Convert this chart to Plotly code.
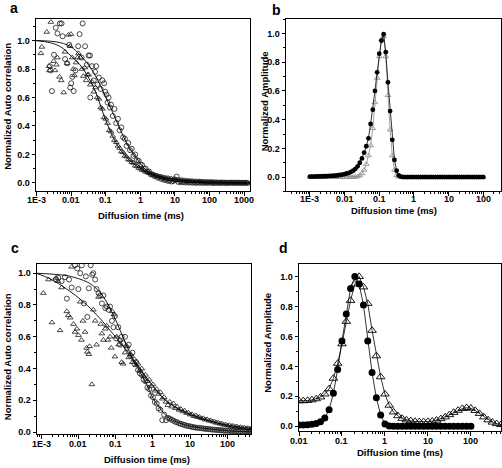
import math
import plotly.graph_objects as go

# ---------------- Panel a data (log10 of diffusion time in ms) ----------------
A_CIRC_EARLY_LOG = [-2.62, -2.60, -2.56, -2.50, -2.45, -2.40, -2.33, -2.28, -2.25, -2.18, -2.12, -2.06,
                    -2.03, -2.00, -1.97, -1.93, -1.88, -1.80, -1.76, -1.70, -1.67, -1.60, -1.55, -1.50,
                    -1.46, -1.45, -1.40, -1.35, -1.31, -1.28, -1.24, -1.20, -1.15, -1.10, -1.05, -1.02,
                    -0.98, -0.95, -0.92, -0.88]
A_CIRC_EARLY_Y = [0.82, 0.79, 0.645, 0.90, 1.09, 1.05, 1.12, 1.12, 1.03, 0.87, 0.84, 0.97,
                  0.67, 0.70, 0.745, 0.645, 0.79, 0.96, 1.045, 0.88, 1.12, 0.96, 0.83, 0.895,
                  0.895, 0.60, 0.82, 0.72, 0.78, 0.82, 0.69, 0.74, 0.66, 0.72, 0.70, 0.64,
                  0.62, 0.565, 0.60, 0.53]
A_TRI_EARLY_LOG = [-2.88, -2.85, -2.71, -2.64, -2.63, -2.59, -2.51, -2.47, -2.43, -2.40, -2.34, -2.29,
                   -2.22, -2.18, -2.12, -2.08, -2.03, -2.01, -1.97, -1.94, -1.91, -1.86, -1.82, -1.79,
                   -1.74, -1.69, -1.65, -1.61, -1.57, -1.53]
A_TRI_EARLY_Y = [0.91, 0.955, 1.06, 0.82, 0.79, 1.13, 0.855, 0.79, 0.83, 0.88, 0.745, 0.72,
                 0.635, 0.92, 0.84, 1.04, 0.96, 1.045, 0.88, 0.80, 0.755, 0.845, 0.88, 0.91,
                 0.88, 0.80, 0.75, 0.81, 0.72, 0.76]
A_TAIL_LOG = [-1.50, -1.45, -1.40, -1.35, -1.30, -1.25, -1.20, -1.15, -1.10, -1.05, -1.00, -0.95, -0.90,
              -0.85, -0.80, -0.75, -0.70, -0.65, -0.60, -0.55, -0.50, -0.45, -0.40, -0.35, -0.30, -0.25,
              -0.20, -0.15, -0.10, -0.05, 0.00, 0.05, 0.10, 0.15, 0.20, 0.25, 0.30, 0.35, 0.40, 0.45,
              0.50, 0.55, 0.60, 0.65, 0.70, 0.75, 0.80, 0.85, 0.90, 0.95, 1.00, 1.05, 1.10, 1.15, 1.20,
              1.25, 1.30, 1.35, 1.40, 1.45, 1.50, 1.55, 1.60, 1.65, 1.70, 1.75, 1.80, 1.85, 1.90, 1.95,
              2.00, 2.05, 2.10, 2.15, 2.20, 2.25, 2.30, 2.35, 2.40, 2.45, 2.50, 2.55, 2.60, 2.65, 2.70,
              2.75, 2.80, 2.85, 2.90, 2.95, 3.00, 3.05, 3.10]
A_CIRC_TAIL_Y = [0.55, 0.47, 0.52, 0.42, 0.45, 0.37, 0.39, 0.32, 0.31, 0.26, 0.28, 0.23, 0.24, 0.19, 0.20,
                 0.16, 0.155, 0.13, 0.125, 0.10, 0.10, 0.08, 0.08, 0.06, 0.06, 0.048, 0.05, 0.037, 0.04,
                 0.028, 0.03, 0.02, 0.022, 0.014, 0.017, 0.01, 0.013, 0.02, 0.045, 0.006, 0.01, 0.004,
                 0.008, 0.003, 0.007, 0.002, 0.006, 0.001, 0.005, 0.0, 0.004, 0.001, 0.005, -0.001, 0.004,
                 0.0, 0.003, 0.001, 0.004, -0.002, 0.003, 0.0, 0.002, -0.001, 0.003, 0.0, 0.002, -0.002,
                 0.002, 0.0, 0.003, -0.001, 0.002, 0.0, 0.002, -0.001, 0.001, 0.0, 0.001, -0.001]
A_TRI_TAIL_Y = [0.76, 0.69, 0.71, 0.64, 0.67, 0.60, 0.59, 0.53, 0.52, 0.46, 0.45, 0.42, 0.37, 0.36, 0.33,
                0.30, 0.285, 0.26, 0.245, 0.22, 0.215, 0.19, 0.185, 0.165, 0.16, 0.145, 0.14, 0.12, 0.118,
                0.105, 0.10, 0.09, 0.088, 0.078, 0.077, 0.068, 0.067, 0.058, 0.058, 0.05, 0.05, 0.044,
                0.045, 0.039, 0.039, 0.034, 0.034, 0.03, 0.03, 0.026, 0.027, 0.023, 0.024, 0.02, 0.021,
                0.018, 0.018, 0.015, 0.016, 0.013, 0.014, 0.011, 0.012, 0.01, 0.011, 0.009, 0.01, 0.007,
                0.008, 0.006, 0.007, 0.005, 0.006, 0.004, 0.005, 0.003, 0.004, 0.002, 0.004, 0.002, 0.003,
                0.001, 0.003, 0.001, 0.002, 0.0, 0.002, 0.0, 0.001, 0.0, 0.001, 0.0, 0.001]
A_FIT1_LOG = [-3.05, -2.6, -2.3, -2.0, -1.75, -1.55, -1.35, -1.15, -1.0, -0.85, -0.7, -0.5, -0.3, -0.1,
              0.1, 0.4, 0.75, 1.25, 1.75, 2.5, 3.2]
A_FIT1_Y = [1.0, 0.995, 0.984, 0.955, 0.90, 0.845, 0.775, 0.68, 0.60, 0.52, 0.44, 0.33, 0.24, 0.17,
            0.105, 0.05, 0.02, 0.006, 0.002, 0.0, 0.0]
A_FIT2_LOG = [-3.05, -2.6, -2.3, -2.0, -1.75, -1.55, -1.35, -1.25, -1.15, -1.05, -0.95, -0.8, -0.6, -0.4,
              -0.2, 0.1, 0.5, 1.0, 1.7, 2.5, 3.2]
A_FIT2_Y = [1.0, 0.984, 0.955, 0.89, 0.83, 0.76, 0.67, 0.61, 0.54, 0.47, 0.41, 0.325, 0.24, 0.18,
            0.135, 0.086, 0.049, 0.026, 0.01, 0.003, 0.0]
A_TICKS = [1e-3, 0.01, 0.1, 1, 10, 100, 1000]
A_TICKTEXT = ["1E-3", "0.01", "0.1", "1", "10", "100", "1000"]

# ---------------- Panel b data ----------------
B_LOG = [-3.0, -2.9375, -2.875, -2.8125, -2.75, -2.6875, -2.625, -2.5625, -2.5, -2.4375, -2.375, -2.3125,
         -2.25, -2.1875, -2.125, -2.0625, -2.0, -1.9375, -1.875, -1.8125, -1.75, -1.6875, -1.625, -1.5625,
         -1.5, -1.4375, -1.375, -1.3125, -1.25, -1.1875, -1.125, -1.0625, -1.0, -0.9375, -0.875, -0.8125,
         -0.75, -0.6875, -0.625, -0.5625, -0.5, -0.4375, -0.375, -0.3125, -0.25, -0.1875, -0.125, -0.0625,
         0.0, 0.0625, 0.125, 0.1875, 0.25, 0.3125, 0.375, 0.4375, 0.5, 0.5625, 0.625, 0.6875, 0.75, 0.8125,
         0.875, 0.9375, 1.0, 1.0625, 1.125, 1.1875, 1.25, 1.3125, 1.375, 1.4375, 1.5, 1.5625, 1.625, 1.6875,
         1.75, 1.8125, 1.875, 1.9375, 2.0]
B_CIRC = [0.004, 0.004, 0.004, 0.005, 0.005, 0.005, 0.006, 0.006, 0.007, 0.008, 0.009, 0.010, 0.011, 0.013,
          0.015, 0.018, 0.021, 0.025, 0.030, 0.037, 0.045, 0.058, 0.075, 0.10, 0.13, 0.17, 0.215, 0.27,
          0.37, 0.47, 0.60, 0.73, 0.86, 0.95, 0.995, 0.87, 0.66, 0.46, 0.26, 0.12, 0.045, 0.012, 0.003,
          0.0, 0.0, 0.0, 0.0, 0.0, 0.0, 0.0, 0.0, 0.0, 0.0, 0.0, 0.0, 0.0, 0.0, 0.0, 0.0, 0.0, 0.0, 0.0,
          0.0, 0.0, 0.0, 0.0, 0.0, 0.0, 0.0, 0.0, 0.0, 0.0, 0.0, 0.0, 0.0, 0.0, 0.0, 0.0, 0.0, 0.0, 0.0]
B_TRI = [0.0, 0.0, 0.0, 0.0, 0.0, 0.0, 0.0, 0.0, 0.0, 0.0, 0.0, 0.0, 0.0, 0.0, 0.0, 0.0, 0.0, 0.0, 0.0,
         0.0, 0.0, 0.002, 0.005, 0.012, 0.025, 0.05, 0.09, 0.15, 0.22, 0.34, 0.52, 0.69, 0.84, 0.96, 0.98,
         0.84, 0.57, 0.33, 0.15, 0.05, 0.012, 0.002, 0.0, 0.0, 0.0, 0.0, 0.0, 0.0, 0.0, 0.0, 0.0, 0.0, 0.0,
         0.0, 0.0, 0.0, 0.0, 0.0, 0.0, 0.0, 0.0, 0.0, 0.0, 0.0, 0.0, 0.0, 0.0, 0.0, 0.0, 0.0, 0.0, 0.0,
         0.0, 0.0, 0.0, 0.0, 0.0, 0.0, 0.0, 0.0, 0.0]
B_TICKS = [1e-3, 0.01, 0.1, 1, 10, 100]
B_TICKTEXT = ["1E-3", "0.01", "0.1", "1", "10", "100"]

# ---------------- Panel c data ----------------
C_CIRC_EARLY_LOG = [-2.60, -2.54, -2.45, -2.36, -2.31, -2.25, -2.18, -2.09, -2.03, -2.00, -1.95, -1.91,
                    -1.85, -1.80, -1.76, -1.72, -1.67, -1.63, -1.60, -1.55, -1.51, -1.46, -1.42, -1.37,
                    -1.33, -1.28, -1.24, -1.19, -1.15, -1.10, -1.06, -1.02, -0.99, -0.93, -0.88, -0.84,
                    -0.80]
C_CIRC_EARLY_Y = [0.96, 0.97, 0.95, 0.975, 0.84, 0.96, 0.91, 1.05, 1.03, 0.90, 1.00, 1.05,
                  0.81, 0.98, 0.725, 0.905, 1.05, 0.99, 1.0, 0.96, 0.90, 0.875, 0.86, 0.81,
                  0.86, 0.78, 0.79, 0.77, 0.79, 0.70, 0.66, 0.73, 0.59, 0.66, 0.55, 0.60, 0.56]
C_TRI_EARLY_LOG = [-2.94, -2.80, -2.71, -2.60, -2.55, -2.49, -2.45, -2.31, -2.27, -2.22, -2.18, -2.13,
                   -2.09, -2.04, -2.00, -1.95, -1.92, -1.88, -1.82, -1.78, -1.76, -1.72, -1.70, -1.64,
                   -1.60, -1.55, -1.51, -1.46, -1.40, -1.37, -1.33, -1.28, -1.24, -1.21, -1.15, -1.12,
                   -1.09, -1.05, -1.02, -0.97, -0.92, -0.88, -0.84, -0.80]
C_TRI_EARLY_Y = [0.875, 0.96, 0.69, 0.97, 0.95, 0.64, 0.91, 0.76, 0.735, 0.72, 1.04, 0.68,
                 0.63, 0.65, 0.61, 0.82, 0.58, 0.70, 0.63, 0.53, 0.505, 0.49, 0.54, 0.30,
                 0.77, 0.70, 0.55, 0.85, 0.68, 0.62, 0.58, 0.65, 0.67, 0.58, 0.60, 0.53,
                 0.76, 0.74, 0.475, 0.60, 0.55, 0.58, 0.44, 0.43]
C_TAIL_LOG = [-0.75, -0.70, -0.65, -0.60, -0.55, -0.50, -0.45, -0.40, -0.35, -0.30, -0.25, -0.20, -0.15,
              -0.10, -0.05, 0.00, 0.05, 0.10, 0.15, 0.20, 0.25, 0.30, 0.35, 0.40, 0.45, 0.50, 0.55, 0.60,
              0.65, 0.70, 0.75, 0.80, 0.85, 0.90, 0.95, 1.00, 1.05, 1.10, 1.15, 1.20, 1.25, 1.30, 1.35,
              1.40, 1.45, 1.50, 1.55, 1.60, 1.65, 1.70, 1.75, 1.80, 1.85, 1.90, 1.95, 2.00, 2.05, 2.10,
              2.15, 2.20, 2.25, 2.30, 2.35, 2.40, 2.45, 2.50, 2.55, 2.60, 2.65]
C_CIRC_TAIL_Y = [0.60, 0.53, 0.55, 0.48, 0.50, 0.43, 0.44, 0.39, 0.37, 0.36, 0.33, 0.32, 0.28, 0.27, 0.23,
                 0.22, 0.19, 0.18, 0.15, 0.14, 0.075, 0.11, 0.075, 0.09, 0.085, 0.078, 0.072, 0.065, 0.062,
                 0.055, 0.052, 0.048, 0.045, 0.04, 0.038, 0.036, 0.033, 0.03, 0.029, 0.026, 0.027, 0.024,
                 0.023, 0.02, 0.021, 0.018, 0.018, 0.015, 0.016, 0.013, 0.014, 0.011, 0.012, 0.009, 0.01,
                 0.008, 0.009, 0.006, 0.008, 0.005, 0.006, 0.004, 0.005, 0.003, 0.004, 0.002, 0.004, 0.002,
                 0.003]
C_TRI_TAIL_Y = [0.50, 0.54, 0.47, 0.49, 0.44, 0.46, 0.42, 0.43, 0.39, 0.40, 0.35, 0.36, 0.32, 0.33, 0.29,
                0.30, 0.26, 0.27, 0.24, 0.25, 0.21, 0.22, 0.19, 0.17, 0.19, 0.16, 0.18, 0.15, 0.16, 0.14,
                0.145, 0.13, 0.135, 0.12, 0.122, 0.11, 0.112, 0.10, 0.104, 0.095, 0.094, 0.086, 0.087,
                0.079, 0.08, 0.072, 0.073, 0.066, 0.066, 0.058, 0.059, 0.052, 0.053, 0.046, 0.047, 0.041,
                0.043, 0.037, 0.039, 0.033, 0.035, 0.029, 0.031, 0.026, 0.028, 0.023, 0.025, 0.021, 0.024]
C_FIT1_LOG = [-3.13, -2.76, -2.31, -2.13, -1.865, -1.69, -1.42, -1.15, -0.97, -0.79, -0.66, -0.52, -0.35,
              -0.17, 0.01, 0.19, 0.37, 0.55, 0.82, 1.26, 1.71, 2.16, 2.65]
C_FIT1_Y = [1.0, 0.995, 0.985, 0.975, 0.955, 0.935, 0.88, 0.78, 0.69, 0.59, 0.52, 0.45, 0.38, 0.30, 0.21,
            0.15, 0.10, 0.073, 0.048, 0.027, 0.015, 0.006, 0.002]
C_FIT2_LOG = [-3.13, -2.76, -2.31, -1.865, -1.42, -1.15, -0.97, -0.75, -0.52, -0.35, -0.17, 0.01, 0.19,
              0.37, 0.64, 0.91, 1.26, 1.71, 2.16, 2.65]
C_FIT2_Y = [1.0, 0.965, 0.90, 0.82, 0.715, 0.64, 0.59, 0.527, 0.454, 0.40, 0.34, 0.29, 0.235, 0.194,
            0.152, 0.12, 0.09, 0.058, 0.0375, 0.022]
C_TICKS = [1e-3, 0.01, 0.1, 1, 10, 100]
C_TICKTEXT = ["1E-3", "0.01", "0.1", "1", "10", "100"]

# ---------------- Panel d data ----------------
D_LOG = [-2.0, -1.9, -1.8, -1.7, -1.6, -1.5, -1.4, -1.3, -1.2, -1.1, -1.0, -0.9, -0.8, -0.7, -0.6, -0.5,
         -0.4, -0.3, -0.2, -0.1, 0.0, 0.1, 0.2, 0.3, 0.4, 0.5, 0.6, 0.7, 0.8, 0.9, 1.0, 1.1, 1.2, 1.3, 1.4,
         1.5, 1.6, 1.7, 1.8, 1.9, 2.0, 2.1, 2.2, 2.3, 2.4, 2.5, 2.6, 2.7]
D_CIRC = [0.008, 0.009, 0.011, 0.014, 0.019, 0.03, 0.055, 0.11, 0.22, 0.38, 0.57, 0.75, 0.92, 1.0, 0.95,
          0.81, 0.57, 0.36, 0.19, 0.075, 0.015, 0.002, 0.0, 0.0, 0.0, 0.0, 0.0, 0.0, 0.0, 0.0, 0.0, 0.0,
          0.0, 0.0, 0.0, 0.0, 0.0, 0.0, 0.0, 0.0, 0.0]
D_TRI = [0.17, 0.17, 0.172, 0.176, 0.183, 0.195, 0.215, 0.25, 0.32, 0.42, 0.55, 0.70, 0.84, 0.95, 1.0,
         0.93, 0.82, 0.64, 0.47, 0.33, 0.215, 0.14, 0.095, 0.07, 0.052, 0.042, 0.036, 0.032, 0.03, 0.03,
         0.031, 0.034, 0.04, 0.05, 0.062, 0.077, 0.092, 0.106, 0.118, 0.124, 0.12, 0.105, 0.085, 0.062,
         0.042, 0.027, 0.017, 0.011]
D_TICKS = [0.01, 0.1, 1, 10, 100]
D_TICKTEXT = ["0.01", "0.1", "1", "10", "100"]

FONT = "Liberation Sans, Arial, sans-serif"
INK = "#1a1a1a"


def ms(logs):
    return [10 ** v for v in logs]


fig = go.Figure()

OPEN_C = dict(symbol="circle-open", size=5, color=INK, line=dict(width=0.8, color=INK))
OPEN_T = dict(symbol="triangle-up-open", size=5, color=INK, line=dict(width=0.8, color=INK))

# Panel a
fig.add_trace(go.Scatter(x=ms(A_CIRC_EARLY_LOG) + ms(A_TAIL_LOG[13:]), y=A_CIRC_EARLY_Y + A_CIRC_TAIL_Y,
                         mode="markers", marker=OPEN_C, xaxis="x", yaxis="y"))
fig.add_trace(go.Scatter(x=ms(A_TRI_EARLY_LOG) + ms(A_TAIL_LOG), y=A_TRI_EARLY_Y + A_TRI_TAIL_Y,
                         mode="markers", marker=OPEN_T, xaxis="x", yaxis="y"))
fig.add_trace(go.Scatter(x=ms(A_FIT1_LOG), y=A_FIT1_Y, mode="lines", line=dict(color="black", width=0.9, shape="spline"),
                         xaxis="x", yaxis="y"))
fig.add_trace(go.Scatter(x=ms(A_FIT2_LOG), y=A_FIT2_Y, mode="lines", line=dict(color="black", width=0.9, shape="spline"),
                         xaxis="x", yaxis="y"))

# Panel b
fig.add_trace(go.Scatter(x=ms(B_LOG), y=B_TRI, mode="lines+markers",
                         line=dict(color="#8a8a8a", width=0.8),
                         marker=dict(symbol="triangle-up-open", size=5, color="#8a8a8a", line=dict(width=0.8)),
                         xaxis="x2", yaxis="y2"))
fig.add_trace(go.Scatter(x=ms(B_LOG), y=B_CIRC, mode="lines+markers",
                         line=dict(color="black", width=0.8),
                         marker=dict(symbol="circle", size=4.8, color="black"),
                         xaxis="x2", yaxis="y2"))

# Panel c
fig.add_trace(go.Scatter(x=ms(C_CIRC_EARLY_LOG) + ms(C_TAIL_LOG), y=C_CIRC_EARLY_Y + C_CIRC_TAIL_Y,
                         mode="markers", marker=OPEN_C, xaxis="x3", yaxis="y3"))
fig.add_trace(go.Scatter(x=ms(C_TRI_EARLY_LOG) + ms(C_TAIL_LOG), y=C_TRI_EARLY_Y + C_TRI_TAIL_Y,
                         mode="markers", marker=OPEN_T, xaxis="x3", yaxis="y3"))
fig.add_trace(go.Scatter(x=ms(C_FIT1_LOG), y=C_FIT1_Y, mode="lines", line=dict(color="black", width=0.9, shape="spline"),
                         xaxis="x3", yaxis="y3"))
fig.add_trace(go.Scatter(x=ms(C_FIT2_LOG), y=C_FIT2_Y, mode="lines", line=dict(color="black", width=0.9, shape="spline"),
                         xaxis="x3", yaxis="y3"))

# Panel d
fig.add_trace(go.Scatter(x=ms(D_LOG[:len(D_CIRC)]), y=D_CIRC, mode="lines+markers",
                         line=dict(color="black", width=0.8),
                         marker=dict(symbol="circle", size=7, color="black"),
                         xaxis="x4", yaxis="y4"))
fig.add_trace(go.Scatter(x=ms(D_LOG), y=D_TRI, mode="lines+markers",
                         line=dict(color="black", width=0.8),
                         marker=dict(symbol="triangle-up-open", size=7.5, color="black", line=dict(width=0.9)),
                         xaxis="x4", yaxis="y4"))

W, H = 502, 468
MINOR_LOG = [m * 10 ** e for e in range(-4, 3) for m in range(2, 10)]
TICKFONT = dict(family=FONT, size=9, color="black", weight="bold")


def xax(domain, rng, vals, anchor):
    return dict(domain=domain, type="log", range=rng, tickmode="array", tickvals=vals,
                showticklabels=False,
                ticks="outside", ticklen=3.5, tickwidth=1, tickcolor="black",
                showline=True, linecolor="black", linewidth=1, mirror=True,
                showgrid=False, zeroline=False, anchor=anchor,
                minor=dict(tickmode="array", tickvals=MINOR_LOG, ticks="outside", ticklen=2,
                           tickwidth=0.7, tickcolor="black", showgrid=False))


def yax(domain, rng, anchor):
    return dict(domain=domain, range=rng, tick0=0, dtick=0.2, tickformat=".1f",
                ticks="outside", ticklen=3.5, tickwidth=1, tickcolor="black",
                showline=True, linecolor="black", linewidth=1, mirror=True,
                showgrid=False, zeroline=False, tickfont=TICKFONT, anchor=anchor,
                minor=dict(dtick=0.1, ticks="outside", ticklen=2, tickwidth=0.7, tickcolor="black",
                           showgrid=False))


ax_a = [36 / W, 250 / W]
ax_b = [286 / W, 501 / W]
ax_c = [37 / W, 251 / W]
ax_d = [299 / W, 501 / W]
BOT_TOP, BOT_C, BOT_D = 192.7, 437.3, 434.0
ay_top = [1 - BOT_TOP / H, 1 - 19.3 / H]
ay_c = [1 - BOT_C / H, 1 - 265.7 / H]
ay_d = [1 - BOT_D / H, 1 - 265.7 / H]

fig.update_layout(
    width=W, height=H, margin=dict(l=0, r=0, t=0, b=0),
    paper_bgcolor="white", plot_bgcolor="white", showlegend=False,
    font=dict(family=FONT, color="black"),
    xaxis=xax(ax_a, [-3.02, 3.17], A_TICKS, "y"),
    yaxis=yax(ay_top, [-0.06, 1.15], "x"),
    xaxis2=xax(ax_b, [-3.69, 2.51], B_TICKS, "y2"),
    yaxis2=yax(ay_top, [-0.1, 1.1], "x2"),
    xaxis3=xax(ax_c, [-3.11, 2.63], C_TICKS, "y3"),
    yaxis3=yax(ay_c, [-0.015, 1.058], "x3"),
    xaxis4=xax(ax_d, [-2.0, 2.7], D_TICKS, "y4"),
    yaxis4=yax(ay_d, [-0.033, 1.084], "x4"),
)

# x tick labels placed just under each axis
for xref, vals, texts, ypix in (("x", A_TICKS, A_TICKTEXT, BOT_TOP + 8.5),
                                ("x2", B_TICKS, B_TICKTEXT, BOT_TOP + 8.0),
                                ("x3", C_TICKS, C_TICKTEXT, BOT_C + 9.5),
                                ("x4", D_TICKS, D_TICKTEXT, BOT_D + 9.5)):
    for v, t in zip(vals, texts):
        fig.add_annotation(x=math.log10(v), xref=xref, y=1 - ypix / H, yref="paper", text=f"<b>{t}</b>",
                           showarrow=False, xanchor="center", yanchor="middle",
                           font=dict(family=FONT, size=9, color="black"))


def label(text, x, y, size=9.5, angle=0):
    fig.add_annotation(text=f"<b>{text}</b>", x=x / W, y=1 - y / H, xref="paper", yref="paper",
                       showarrow=False, textangle=angle, xanchor="center", yanchor="middle",
                       font=dict(family=FONT, size=size, color="black"))


label("Diffusion time (ms)", 141, 217)
label("Diffusion time (ms)", 394, 212)
label("Diffusion time (ms)", 147, 462)
label("Diffusion time (ms)", 400, 455)
label("Normalized Auto correlation", 7.5, 107, angle=-90)
label("Normalized Amplitude", 264, 102, angle=-90)
label("Normalized Auto correlation", 7.5, 359, angle=-90)
label("Normalized Amplitude", 268, 345, angle=-90)
label("a", 14, 8, size=14)
label("b", 276, 10, size=14)
label("c", 15, 250, size=14)
label("d", 283, 250, size=14)

fig.write_html("out.html", config={"displayModeBar": False},
               post_script="document.body.style.margin='0';document.body.style.overflow='hidden';")
